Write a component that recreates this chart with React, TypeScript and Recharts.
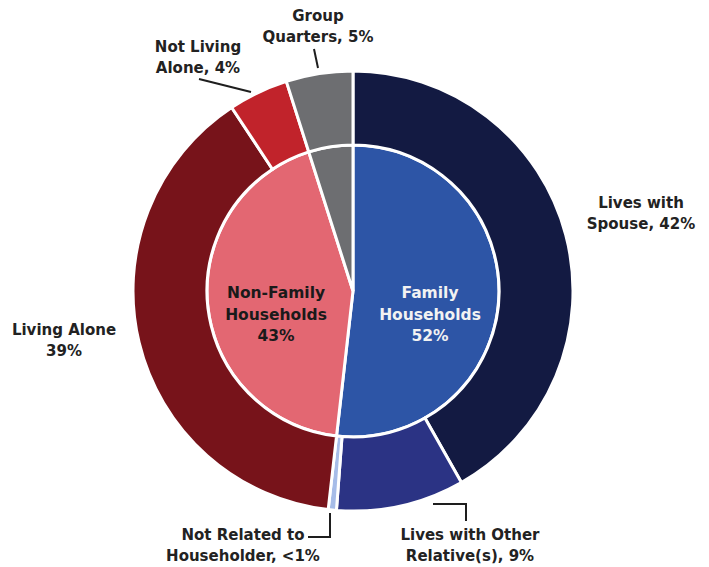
import React from 'react';
import { PieChart, Pie, Cell } from 'recharts';

const outerNames = ['Lives with Spouse', 'Lives with Other Relative(s)', 'Not Related to Householder', 'Living Alone', 'Not Living Alone', 'Group Quarters'];
const outerValues = [41.8, 9.4, 0.6, 38.9, 4.4, 4.9];
const outerLabels = [
  ['Lives with', 'Spouse, 42%'],
  ['Lives with Other', 'Relative(s), 9%'],
  ['Not Related to', 'Householder, <1%'],
  ['Living Alone', '39%'],
  ['Not Living', 'Alone, 4%'],
  ['Group', 'Quarters, 5%'],
];
const innerNames = ['Family Households', 'Non-Family Households', 'Group Quarters'];
const innerValues = [51.8, 43.3, 4.9];
const innerLabels = [['Family', 'Households', '52%'], ['Non-Family', 'Households', '43%'], []];

const outerColors = ['#131A42', '#2B3384', '#A6BCE8', '#77131A', '#C1232B', '#6D6E71'];
const innerColors = ['#2D55A6', '#E36772', '#6D6E71'];

const outerData = outerNames.map((name, i) => ({ name, value: outerValues[i] }));
const innerData = innerNames.map((name, i) => ({ name, value: innerValues[i] }));

// label placement relative to pie centre: [x, firstBaselineY], plus leader line points
const outerLabelPos: { x: number; y: number; line?: number[][] }[] = [
  { x: 288, y: -83 },
  { x: 117, y: 249, line: [[80, 213], [113, 213], [113, 230]] },
  { x: -110, y: 249, line: [[-23, 222], [-23, 246], [-45, 246]] },
  { x: -289, y: 44 },
  { x: -155, y: -239, line: [[-154, -212], [-102, -199]] },
  { x: -35, y: -270, line: [[-39, -242], [-35, -223]] },
];
const innerLabelPos = [
  { x: 77, y: 7, color: '#F2F2F2' },
  { x: -77, y: 7, color: '#1A1A1A' },
  { x: 0, y: 0, color: '#000' },
];

const FONT = '"DejaVu Sans", Verdana, sans-serif';

const renderOuterLabel = (props: any) => {
  const { cx, cy, index } = props;
  const p = outerLabelPos[index];
  const lines = outerLabels[index];
  return (
    <g key={`ol-${index}`}>
      {p.line && (
        <polyline
          points={p.line.map(([x, y]) => `${cx + x},${cy + y}`).join(' ')}
          fill="none"
          stroke="#1E1E1E"
          strokeWidth={2}
        />
      )}
      {lines.map((t, k) => (
        <text
          key={k}
          x={cx + p.x}
          y={cy + p.y + k * 20.5}
          textAnchor="middle"
          fontFamily={FONT}
          fontWeight="bold"
          fontSize={15}
          fill="#222"
        >
          {t}
        </text>
      ))}
    </g>
  );
};

const renderInnerLabel = (props: any) => {
  const { cx, cy, index } = props;
  const p = innerLabelPos[index];
  const lines = innerLabels[index];
  return (
    <g key={`il-${index}`}>
      {lines.map((t, k) => (
        <text
          key={k}
          x={cx + p.x}
          y={cy + p.y + k * 21.5}
          textAnchor="middle"
          fontFamily={FONT}
          fontWeight="bold"
          fontSize={15.5}
          fill={p.color}
        >
          {t}
        </text>
      ))}
    </g>
  );
};

export default function App() {
  return (
    <div style={{ position: 'absolute', left: 0, top: 0, width: 709, height: 567, background: '#fff' }}>
      <PieChart width={709} height={567} margin={{ top: 0, right: 0, bottom: 0, left: 0 }}>
        <Pie
          data={innerData}
          dataKey="value"
          cx={353}
          cy={291}
          outerRadius={146}
          startAngle={90}
          endAngle={-270}
          stroke="#fff"
          strokeWidth={3}
          isAnimationActive={false}
          label={renderInnerLabel}
          labelLine={false}
        >
          {innerData.map((d, i) => (
            <Cell key={d.name} fill={innerColors[i]} />
          ))}
        </Pie>
        <Pie
          data={outerData}
          dataKey="value"
          cx={353}
          cy={291}
          innerRadius={146}
          outerRadius={220}
          startAngle={90}
          endAngle={-270}
          stroke="#fff"
          strokeWidth={3}
          isAnimationActive={false}
          label={renderOuterLabel}
          labelLine={false}
        >
          {outerData.map((d, i) => (
            <Cell key={d.name} fill={outerColors[i]} />
          ))}
        </Pie>
      </PieChart>
    </div>
  );
}
